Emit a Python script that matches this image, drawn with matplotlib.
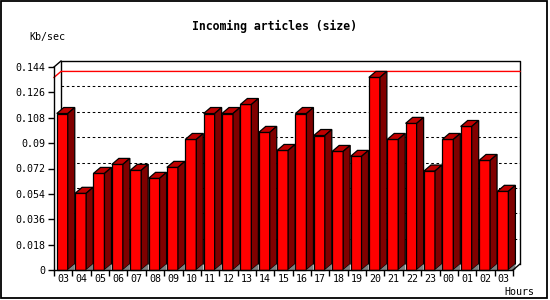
import matplotlib
matplotlib.use("Agg")
import matplotlib.pyplot as plt
from matplotlib.patches import Polygon, Rectangle
import numpy as np

# Data
hours = ["03", "04", "05", "06", "07", "08", "09", "10", "11", "12", "13", "14",
         "15", "16", "17", "18", "19", "20", "21", "22", "23", "00", "01", "02", "03"]
kb_per_sec = [0.111, 0.0544, 0.0685, 0.0749, 0.0707, 0.065, 0.0728, 0.0926,
              0.111, 0.111, 0.1174, 0.0976, 0.0848, 0.111, 0.0954, 0.0841,
              0.0806, 0.1366, 0.0926, 0.104, 0.0702, 0.0926, 0.1018, 0.0777, 0.0558]
y_ticks = [0, 0.018, 0.036, 0.054, 0.072, 0.09, 0.108, 0.126, 0.144]
y_tick_labels = ["0", "0.018", "0.036", "0.054", "0.072", "0.09", "0.108", "0.126", "0.144"]

FRONT = "#ff0000"
TOP = "#c00000"
SIDE = "#800000"
FLOOR = "#808080"
MONO = "DejaVu Sans Mono"

W, H = 550, 300
fig = plt.figure(figsize=(W / 100, H / 100), dpi=100)
fig.patch.set_facecolor("white")

# front plot area in pixels: x 54..513, y 67..270
ax = fig.add_axes([54 / W, (H - 270) / H, 459 / W, 203 / H])
n = len(hours)
x = np.arange(n)
xmin, xmax = -0.5, n - 0.5
ymax = y_ticks[-1]
ax.set_xlim(xmin, xmax)
ax.set_ylim(0, ymax)

# 3D depth (7px right, 6px up) expressed in data units
dx = 7 / (459 / n)
dy = 6 / (203 / ymax)

# back wall: grid, frame, max line
for t in y_ticks[1:-1]:
    ax.plot([xmin + dx, xmax + dx], [t + dy, t + dy], color="black", lw=0.75,
            ls=(0, (2.5, 2.5)), zorder=1, clip_on=False)
ax.plot([xmin + dx, xmin + dx, xmax + dx, xmax + dx],
        [dy, ymax + dy, ymax + dy, dy], color="black", lw=1, zorder=1, clip_on=False)
vmax = max(kb_per_sec)
ax.plot([xmin, xmin + dx, xmax + dx], [vmax, vmax + dy, vmax + dy],
        color="red", lw=1, zorder=1.5, clip_on=False)
ax.plot([xmin, xmin + dx], [ymax, ymax + dy], color="black", lw=1, clip_on=False)
ax.plot([xmax, xmax + dx], [0, dy], color="black", lw=1, clip_on=False, zorder=4)

# bars
bw = 0.6
lefts = x - 0.35
ax.bar(lefts, kb_per_sec, width=bw, align="edge", color=FRONT, edgecolor="black",
       linewidth=0.9, zorder=3, clip_on=False)
for l, v in zip(lefts, kb_per_sec):
    r = l + bw
    ax.add_patch(Polygon([(l, v), (r, v), (r + dx, v + dy), (l + dx, v + dy)],
                         closed=True, facecolor=TOP, edgecolor="black", lw=0.9,
                         zorder=3, clip_on=False))
    ax.add_patch(Polygon([(r, 0), (r + dx, dy), (r + dx, v + dy), (r, v)],
                         closed=True, facecolor=SIDE, edgecolor="black", lw=0.9,
                         zorder=3, clip_on=False))
    ax.add_patch(Polygon([(r, 0), (r + dx, dy), (r + dx, 0)], closed=True,
                         facecolor=FLOOR, edgecolor="none", zorder=3.5, clip_on=False))

# axes
for side in ["top", "right"]:
    ax.spines[side].set_visible(False)
for side in ["left", "bottom"]:
    ax.spines[side].set_linewidth(1)
    ax.spines[side].set_zorder(4)
ax.set_facecolor("none")

ax.set_yticks(y_ticks, y_tick_labels)
ax.tick_params(axis="y", length=4, width=1, pad=2, labelsize=7.2, labelfontfamily=MONO)
ax.set_xticks(np.arange(n + 1) - 0.5)
ax.set_xticklabels([])
ax.set_xticks(x, hours, minor=True)
ax.tick_params(axis="x", which="major", length=4, width=1)
ax.tick_params(axis="x", which="minor", length=0, pad=3, labelsize=7.2, labelfontfamily=MONO)

fig.text(274 / W, 1 - 26 / H, "Incoming articles (size)", ha="center", va="center",
         fontsize=8.3, fontweight="bold", family=MONO)
fig.text(47 / W, 1 - 37 / H, "Kb/sec", ha="center", va="center", fontsize=7.2, family=MONO)
fig.text(519 / W, 1 - 292 / H, "Hours", ha="center", va="center", fontsize=7.2, family=MONO)

# outer frame
fig.add_artist(Rectangle((0.5 / W, 2 / H), 546 / W, 297.5 / H, transform=fig.transFigure,
                         fill=False, edgecolor="black", lw=1.3))

fig.savefig("out.png", dpi=100)
